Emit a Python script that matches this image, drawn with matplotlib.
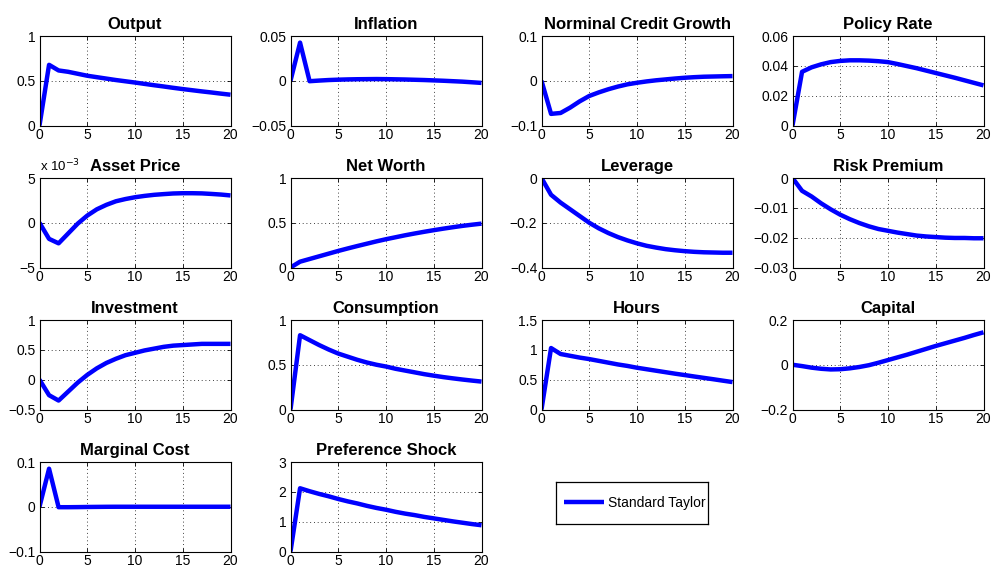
import matplotlib
matplotlib.use("Agg")
import matplotlib.pyplot as plt
from matplotlib.ticker import FuncFormatter, FixedLocator
import numpy as np

plt.rcParams['font.family'] = ['Liberation Sans', 'DejaVu Sans']

horizon = list(range(21))

output = [0, 0.678, 0.615, 0.600, 0.578, 0.556, 0.540, 0.524, 0.508, 0.494, 0.480,
          0.465, 0.450, 0.436, 0.421, 0.407, 0.394, 0.381, 0.369, 0.356, 0.344]
inflation = [0, 0.0426, -0.0005, 0.0002, 0.0008, 0.0012, 0.0015, 0.0017, 0.0018, 0.0019, 0.0018,
             0.0016, 0.0014, 0.0011, 0.0008, 0.0004, 0.0, -0.0005, -0.0010, -0.0017, -0.0024]
credit_growth = [0, -0.074, -0.072, -0.060, -0.046, -0.034, -0.026, -0.019, -0.013, -0.008, -0.0045,
                 -0.0015, 0.001, 0.003, 0.005, 0.0067, 0.008, 0.009, 0.0095, 0.010, 0.0104]
policy_rate = [0, 0.0360, 0.0390, 0.0410, 0.0425, 0.0433, 0.0437, 0.0437, 0.0435, 0.0431, 0.0425,
               0.0412, 0.0398, 0.0384, 0.0368, 0.0352, 0.0336, 0.0320, 0.0303, 0.0286, 0.0269]
asset_price = [0, -0.0018, -0.0023, -0.0012, -0.0001, 0.0008, 0.0015, 0.0020, 0.0024, 0.00265, 0.00285,
               0.0030, 0.00312, 0.0032, 0.00327, 0.0033, 0.0033, 0.00328, 0.00322, 0.00315, 0.00305]
net_worth = [0, 0.065, 0.095, 0.125, 0.155, 0.185, 0.213, 0.240, 0.266, 0.292, 0.316,
             0.338, 0.360, 0.380, 0.399, 0.417, 0.434, 0.450, 0.465, 0.478, 0.490]
leverage = [0, -0.075, -0.110, -0.140, -0.170, -0.200, -0.225, -0.246, -0.264, -0.279, -0.292,
            -0.303, -0.311, -0.318, -0.323, -0.327, -0.330, -0.332, -0.333, -0.334, -0.334]
risk_premium = [0, -0.0043, -0.0062, -0.0085, -0.0105, -0.0123, -0.0138, -0.0151, -0.0162, -0.0171, -0.0177,
                -0.0183, -0.0188, -0.0193, -0.0196, -0.0198, -0.0200, -0.0201, -0.0201, -0.0202, -0.0202]
investment = [0, -0.26, -0.35, -0.20, -0.05, 0.08, 0.19, 0.28, 0.35, 0.41, 0.45,
              0.49, 0.52, 0.55, 0.57, 0.58, 0.59, 0.60, 0.60, 0.60, 0.60]
consumption = [0, 0.83, 0.775, 0.72, 0.67, 0.625, 0.59, 0.555, 0.525, 0.50, 0.48,
               0.455, 0.435, 0.415, 0.395, 0.378, 0.362, 0.348, 0.335, 0.323, 0.312]
hours = [0, 1.03, 0.93, 0.90, 0.87, 0.845, 0.815, 0.785, 0.755, 0.73, 0.70,
         0.675, 0.65, 0.625, 0.60, 0.577, 0.553, 0.53, 0.507, 0.483, 0.46]
capital = [0, -0.006, -0.013, -0.018, -0.021, -0.020, -0.016, -0.010, -0.002, 0.009, 0.021,
           0.033, 0.045, 0.058, 0.071, 0.084, 0.096, 0.108, 0.120, 0.133, 0.145]
marginal_cost = [0, 0.085, -0.001, -0.001, -0.0008, -0.0005, -0.0003, -0.0001, 0, 0, 0,
                 0, 0, 0, 0, 0, 0, 0, 0, 0, 0]
preference_shock = [0, 2.12, 2.02, 1.93, 1.85, 1.76, 1.68, 1.61, 1.53, 1.46, 1.40,
                    1.33, 1.27, 1.22, 1.16, 1.11, 1.06, 1.01, 0.965, 0.92, 0.88]

titles = ["Output", "Inflation", "Norminal Credit Growth", "Policy Rate",
          "Asset Price", "Net Worth", "Leverage", "Risk Premium",
          "Investment", "Consumption", "Hours", "Capital",
          "Marginal Cost", "Preference Shock"]
series = [output, inflation, credit_growth, policy_rate,
          asset_price, net_worth, leverage, risk_premium,
          investment, consumption, hours, capital,
          marginal_cost, preference_shock]
yticks = [[0, 0.5, 1], [-0.05, 0, 0.05], [-0.1, 0, 0.1], [0, 0.02, 0.04, 0.06],
          [-0.005, 0, 0.005], [0, 0.5, 1], [-0.4, -0.2, 0], [-0.03, -0.02, -0.01, 0],
          [-0.5, 0, 0.5, 1], [0, 0.5, 1], [0, 0.5, 1, 1.5], [-0.2, 0, 0.2],
          [-0.1, 0, 0.1], [0, 1, 2, 3]]
xticks = [0, 5, 10, 15, 20]
legend_label = "Standard Taylor"

W, H = 993, 568
fig = plt.figure(figsize=(W / 100, H / 100), dpi=100)

lefts = [39.5, 290.5, 541.5, 792.5]
tops = [36, 178, 320, 462]
aw, ah = 191, 89.5

def fmt_num(v, pos=None):
    if abs(v) < 1e-12:
        return "0"
    s = ("%g" % v)
    return s.replace("-", "\u2212")

line = None
for i, (title, ys, yt) in enumerate(zip(titles, series, yticks)):
    r, c = divmod(i, 4)
    ax = fig.add_axes([lefts[c] / W, 1 - (tops[r] + ah) / H, aw / W, ah / H])
    line, = ax.plot(horizon, ys, color="#0000ff", lw=3.2, solid_capstyle="butt")
    ax.set_xlim(0, 20)
    ax.set_ylim(yt[0], yt[-1])
    ax.xaxis.set_major_locator(FixedLocator(xticks))
    ax.yaxis.set_major_locator(FixedLocator(yt))
    if title == "Asset Price":
        ax.yaxis.set_major_formatter(FuncFormatter(lambda v, p: fmt_num(round(v / 1e-3, 6))))
        ax.text(0.0, 1.04, r"x 10$^{-3}$", transform=ax.transAxes, fontsize=9.5,
                ha="left", va="bottom")
    else:
        ax.yaxis.set_major_formatter(FuncFormatter(fmt_num))
    ax.xaxis.set_major_formatter(FuncFormatter(fmt_num))
    ax.grid(True, color="black", linestyle=(0, (1, 3.5)), linewidth=0.6)
    ax.tick_params(direction="in", length=3, width=0.6, labelsize=10,
                   top=True, right=True, pad=3)
    ax.tick_params(axis="x", pad=1.5)
    for sp in ax.spines.values():
        sp.set_linewidth(0.8)
    ax.set_title(title, fontsize=12, fontweight="bold", pad=5)

# legend box placed in the empty 15th slot
lax = fig.add_axes([556 / W, 1 - 524 / H, 152 / W, 42 / H])
lax.set_xticks([])
lax.set_yticks([])
for sp in lax.spines.values():
    sp.set_linewidth(0.9)
lax.legend([line], [legend_label], loc="center left", bbox_to_anchor=(0.0, 0.5),
           fontsize=10, frameon=False, handlelength=2.9, handletextpad=0.3,
           borderpad=0, borderaxespad=0.55)

fig.savefig("out.png", dpi=100)
